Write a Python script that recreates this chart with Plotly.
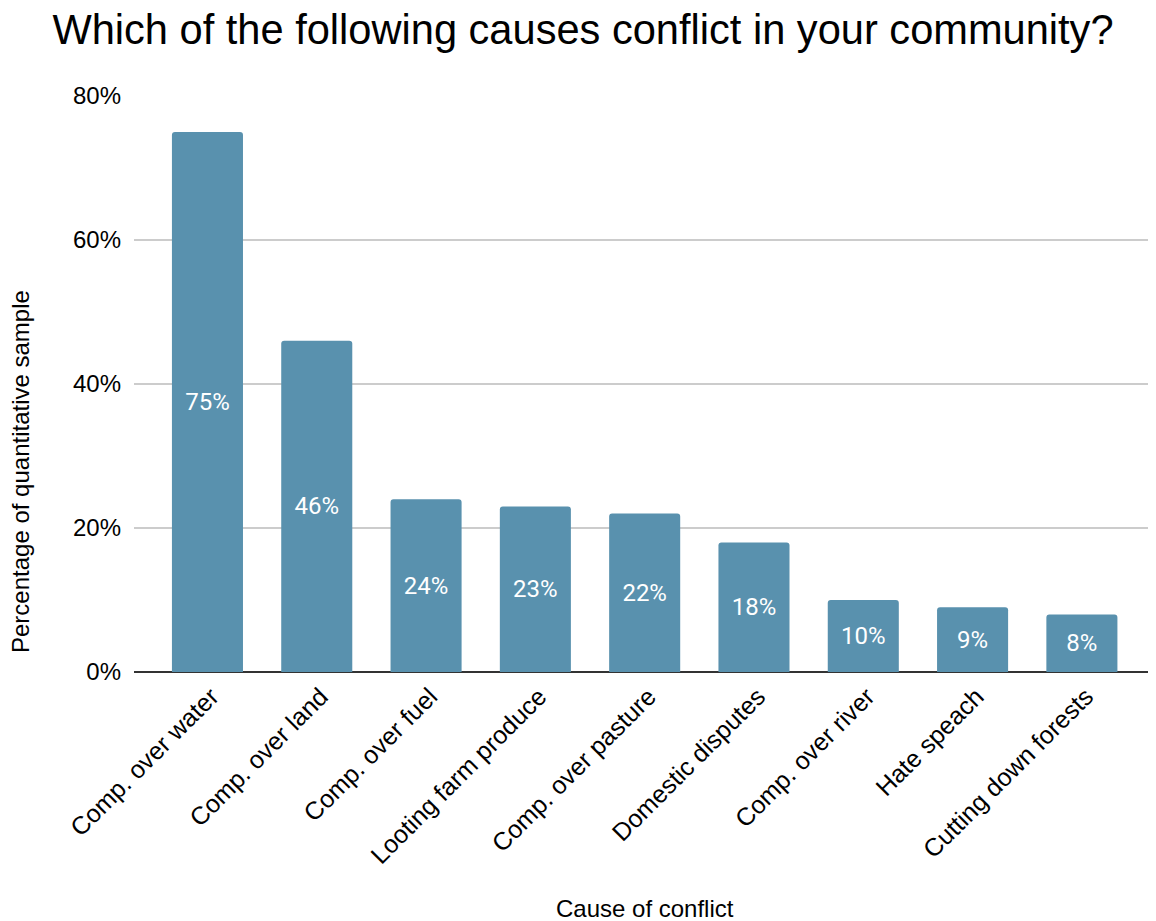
import plotly.graph_objects as go

categories = [
    "Comp. over water",
    "Comp. over land",
    "Comp. over fuel",
    "Looting farm produce",
    "Comp. over pasture",
    "Domestic disputes",
    "Comp. over river",
    "Hate speach",
    "Cutting down forests",
]
values = [75, 46, 24, 23, 22, 18, 10, 9, 8]
y_ticks = [0, 20, 40, 60, 80]

# page body has an 8px default margin; compensate
OFF = 8
W, H = 1156 - OFF, 921 - OFF
L, R, T = 134 - OFF, 0, 96 - OFF
B = H - (672 - OFF)
pw, ph = W - L - R, H - T - B

fig = go.Figure(
    go.Bar(
        x=categories,
        y=values,
        marker=dict(color="#5991AE", line=dict(width=0)),
        texttemplate="%{y}%",
        textposition="inside",
        insidetextanchor="middle",
        textfont=dict(family="Roboto", size=24, color="white"),
        textangle=0,
        hoverinfo="skip",
    )
)

fig.update_layout(
    width=W,
    height=H,
    margin=dict(l=L, r=R, t=T, b=B, autoexpand=False),
    paper_bgcolor="white",
    plot_bgcolor="white",
    bargap=0.35,
    barcornerradius=3,
    showlegend=False,
    font=dict(family="Liberation Sans, Arial, sans-serif", color="#000000"),
    title=dict(
        text="Which of the following causes conflict in your community?",
        font=dict(family="Liberation Sans, Arial, sans-serif", size=41.6, color="#000000"),
        x=(583 - OFF) / W,
        xanchor="center",
        xref="container",
        y=1 - (29 - OFF) / H,
        yanchor="middle",
        yref="container",
    ),
    xaxis=dict(
        type="category",
        range=[-0.672, 8.678],
        tickangle=-45,
        tickfont=dict(size=25, color="#000000"),
        showgrid=False,
        showline=False,
        ticks="",
        zeroline=False,
        automargin=False,
        ticklabelshift=4,
        ticklabelstandoff=4,
    ),
    yaxis=dict(
        range=[0, 80],
        tickvals=y_ticks,
        ticktext=[f"{v}%" for v in y_ticks],
        tickfont=dict(size=24, color="#000000"),
        showgrid=True,
        gridcolor="#cccccc",
        gridwidth=1.5,
        zeroline=True,
        zerolinecolor="#333333",
        zerolinewidth=2,
        showline=False,
        ticks="",
        ticklabelstandoff=12,
        automargin=False,
    ),
    annotations=[
        dict(
            text="Percentage of quantitative sample",
            textangle=-90,
            xref="paper",
            yref="paper",
            x=(20 - 134) / pw,
            y=(672 - 472) / ph,
            xanchor="center",
            yanchor="middle",
            showarrow=False,
            font=dict(size=24, color="#000000"),
        ),
        dict(
            text="Cause of conflict",
            xref="paper",
            yref="paper",
            x=(645 - 134) / pw,
            y=(672 - 908) / ph,
            xanchor="center",
            yanchor="middle",
            showarrow=False,
            font=dict(size=24, color="#000000"),
        ),
    ],
)

fig.write_html("out.html")
